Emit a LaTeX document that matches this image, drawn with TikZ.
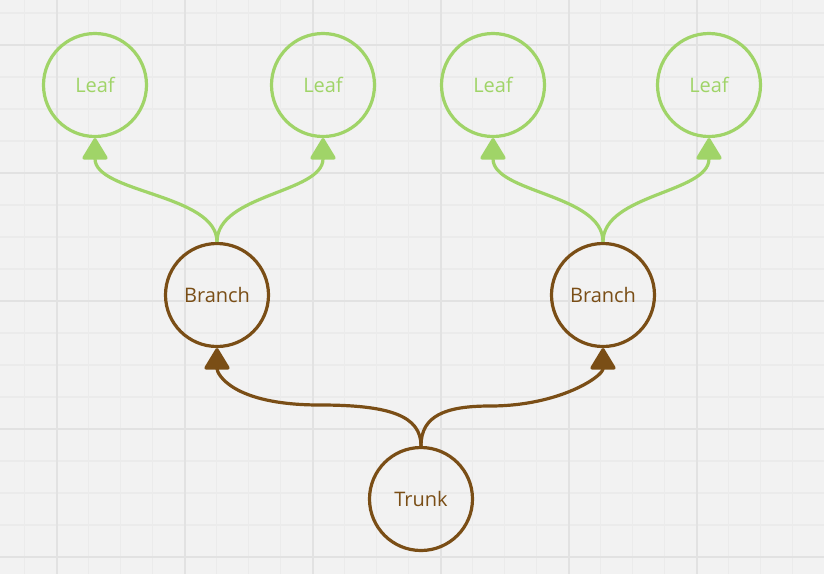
\documentclass[tikz,border=0pt]{standalone}
\usepackage{fontspec}
\setmainfont{Open Sans}
\usetikzlibrary{arrows.meta}
\definecolor{leafgreen}{RGB}{160,212,104}
\definecolor{barkbrown}{RGB}{122,78,22}
\definecolor{bgcol}{RGB}{242,242,242}
\definecolor{gridmajor}{RGB}{226,226,226}
\definecolor{gridminor}{RGB}{235,235,235}
\begin{document}
\begin{tikzpicture}[x=1pt,y=-1pt,
  treenode/.style={circle, minimum size=103pt, inner sep=0pt, line width=3.2pt,
    font=\fontsize{20}{24}\selectfont},
  leafnode/.style={treenode, draw=leafgreen, text=leafgreen},
  woodnode/.style={treenode, draw=barkbrown, text=barkbrown},
  conn/.style={line width=3.2pt, -{Triangle[length=23pt,width=27pt,round]}},
  leafconn/.style={conn, leafgreen},
  woodconn/.style={conn, barkbrown},
  minorline/.style={gridminor, line width=1.5pt},
  majorline/.style={gridmajor, line width=2pt}]
\useasboundingbox (0,0) rectangle (824,574);
\fill[bgcol] (0,0) rectangle (824,574);
\foreach \i in {0,...,25} \draw[minorline] ({24.5+32*\i},0) -- ++(0,574);
\foreach \i in {0,...,17} \draw[minorline] (0,{13+32*\i}) -- ++(824,0);
\foreach \i in {0,...,5} \draw[majorline] ({56.5+128*\i},0) -- ++(0,574);
\foreach \i in {0,...,4} \draw[majorline] (0,{45+128*\i}) -- ++(824,0);

\node[leafnode] (l1) at (95,85) {Leaf};
\node[leafnode] (l2) at (323,85) {Leaf};
\node[leafnode] (l3) at (493,85) {Leaf};
\node[leafnode] (l4) at (709,85) {Leaf};
\node[woodnode] (b1) at (217,295) {Branch};
\node[woodnode] (b2) at (603,295) {Branch};
\node[woodnode] (t) at (421,499) {Trunk};
\coordinate (m1) at (320,405);
\coordinate (m2) at (490,406);

\draw[leafconn] (b1.north) .. controls +(0,-48) and +(0,55) .. (l1.south);
\draw[leafconn] (b1.north) .. controls +(0,-48) and +(0,55) .. (l2.south);
\draw[leafconn] (b2.north) .. controls +(0,-48) and +(0,55) .. (l3.south);
\draw[leafconn] (b2.north) .. controls +(0,-48) and +(0,55) .. (l4.south);
\draw[woodconn] (t.north) .. controls +(0,-30) and +(70,0) .. (m1)
  .. controls +(-89,0) and +(0,25) .. (b1.south);
\draw[woodconn] (t.north) .. controls +(0,-30) and +(-45,0) .. (m2)
  .. controls +(70,0) and +(0,28) .. (b2.south);
\end{tikzpicture}
\end{document}
